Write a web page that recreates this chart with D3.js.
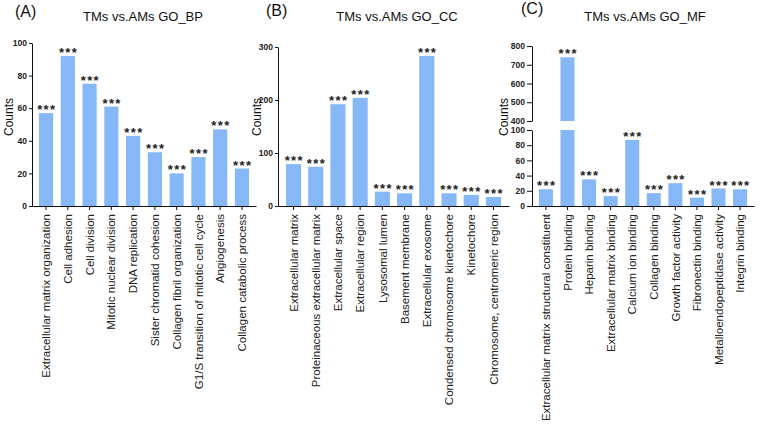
<!DOCTYPE html>
<html>
<head>
<meta charset="utf-8">
<script src="https://cdn.jsdelivr.net/npm/d3@7"></script>
<style>
    body { margin: 0; background: #fff; }
    text { font-family: "Liberation Sans", Arial, sans-serif; }
    .tick text { font-size: 8.5px; font-weight: bold; fill: #222; }
    .xlab .tick text { font-size: 11.5px; font-weight: normal; fill: #222; }
</style>
</head>
<body>
<div id="chart"></div>
<script>
// Panel A: GO_BP
const bpTerms = ["Extracellular matrix organization", "Cell adhesion", "Cell division",
    "Mitotic nuclear division", "DNA replication", "Sister chromatid cohesion",
    "Collagen fibril organization", "G1/S transition of mitotic cell cycle",
    "Angiogenesis", "Collagen catabolic process"];
const bpCounts = [57, 92, 75, 61, 43, 33, 20, 30, 47, 23];
const bpTicks = [0, 20, 40, 60, 80, 100];

// Panel B: GO_CC
const ccTerms = ["Extracellular matrix", "Proteinaceous extracellular matrix", "Extracellular space",
    "Extracellular region", "Lysosomal lumen", "Basement membrane", "Extracellular exosome",
    "Condensed chromosome kinetochore", "Kinetochore", "Chromosome, centromeric region"];
const ccCounts = [79, 74, 192, 204, 27, 24, 283, 24, 21, 17];
const ccTicks = [0, 100, 200, 300];

// Panel C: GO_MF (broken axis)
const mfTerms = ["Extracellular matrix structural constituent", "Protein binding", "Heparin binding",
    "Extracellular matrix binding", "Calcium ion binding", "Collagen binding",
    "Growth factor activity", "Fibronectin binding", "Metalloendopeptidase  activity",
    "Integrin binding"];
const mfCounts = [22, 740, 35, 13, 87, 17, 30, 11, 23, 22];
const mfLowTicks = [0, 20, 40, 60, 80, 100];
const mfHighTicks = [400, 500, 600, 700, 800];

const barColor = "#86b7f7";
const stars = "***";

const svg = d3.select("#chart").append("svg")
    .attr("width", 760)
    .attr("height", 427);

const baseY = 206;

// Draw one panel; segs = list of y segments for broken axis
function drawPanel(p) {
    const g = svg.append("g");

    const x = d3.scaleBand()
        .domain(p.terms)
        .range(p.xRange)
        .paddingInner(p.padIn)
        .paddingOuter(p.padOut);

    // bars, one rect per segment
    p.segs.forEach(seg => {
        const [lo, hi] = seg.scale.domain();
        g.append("g").selectAll("rect")
            .data(p.terms.map((t, i) => ({ t: t, v: p.values[i] })).filter(d => d.v > lo))
            .enter()
            .append("rect")
            .attr("x", d => x(d.t))
            .attr("width", x.bandwidth())
            .attr("y", d => seg.scale(Math.min(d.v, hi)))
            .attr("height", d => seg.scale(lo) - seg.scale(Math.min(d.v, hi)))
            .attr("fill", barColor);

        g.append("g")
            .attr("transform", `translate(${p.xRange[0]},0)`)
            .call(d3.axisLeft(seg.scale).tickValues(seg.ticks)
                .tickSize(p.tick).tickPadding(2).tickSizeOuter(0));
    });

    // significance stars
    g.append("g").selectAll("text")
        .data(p.terms.map((t, i) => ({ t: t, v: p.values[i] })))
        .enter()
        .append("text")
        .text(stars)
        .attr("x", d => x(d.t) + x.bandwidth() / 2 + 0.8)
        .attr("y", d => {
            const seg = p.segs.find(s => d.v >= s.scale.domain()[0] && d.v <= s.scale.domain()[1]) || p.segs[0];
            return seg.scale(d.v) + 1;
        })
        .attr("text-anchor", "middle")
        .style("font-size", "13px")
        .style("font-weight", "bold")
        .style("letter-spacing", "1.4px")
        .style("fill", "#222");

    // x axis with rotated term labels
    const xAxis = g.append("g")
        .attr("class", "xlab")
        .attr("transform", `translate(0,${baseY})`)
        .call(d3.axisBottom(x).tickSize(4).tickSizeOuter(0));
    xAxis.selectAll(".tick text")
        .attr("transform", "rotate(-90)")
        .attr("text-anchor", "end")
        .attr("x", -8)
        .attr("y", 0)
        .attr("dy", "0.36em");

    g.selectAll(".domain").attr("stroke", "#111");
    g.selectAll(".tick line").attr("stroke", "#111");

    // panel letter, title, y label
    g.append("text").text(p.letter)
        .attr("x", p.letterPos[0]).attr("y", p.letterPos[1])
        .style("font-size", "16px").style("fill", "#111");
    g.append("text").text(p.title)
        .attr("x", p.titlePos[0]).attr("y", p.titlePos[1])
        .attr("text-anchor", "middle")
        .style("font-size", "13px").style("fill", "#111");
    g.append("text").text("Counts")
        .attr("transform", `translate(${p.yLabelX},117) rotate(-90)`)
        .attr("text-anchor", "middle")
        .attr("dy", "0.35em")
        .style("font-size", "12px").style("fill", "#111");
}

drawPanel({
    terms: bpTerms, values: bpCounts,
    xRange: [32, 256], padIn: 0.35, padOut: 0.32, tick: 3,
    segs: [{ scale: d3.scaleLinear().domain([0, 100]).range([baseY, 43]), ticks: bpTicks }],
    letter: "(A)", letterPos: [15, 17],
    title: "TMs vs.AMs GO_BP", titlePos: [143, 21],
    yLabelX: 9
});

drawPanel({
    terms: ccTerms, values: ccCounts,
    xRange: [278, 509], padIn: 0.32, padOut: 0.36, tick: 3,
    segs: [{ scale: d3.scaleLinear().domain([0, 300]).range([baseY, 47]), ticks: ccTicks }],
    letter: "(B)", letterPos: [266, 16],
    title: "TMs vs.AMs GO_CC", titlePos: [397, 21],
    yLabelX: 257
});

drawPanel({
    terms: mfTerms, values: mfCounts,
    xRange: [532, 754], padIn: 0.35, padOut: 0.32, tick: 5,
    segs: [
        { scale: d3.scaleLinear().domain([0, 100]).range([baseY, 130]), ticks: mfLowTicks },
        { scale: d3.scaleLinear().domain([400, 800]).range([121, 46]), ticks: mfHighTicks }
    ],
    letter: "(C)", letterPos: [521, 14],
    title: "TMs vs.AMs GO_MF", titlePos: [645, 21],
    yLabelX: 504
});
</script>
</body>
</html>
